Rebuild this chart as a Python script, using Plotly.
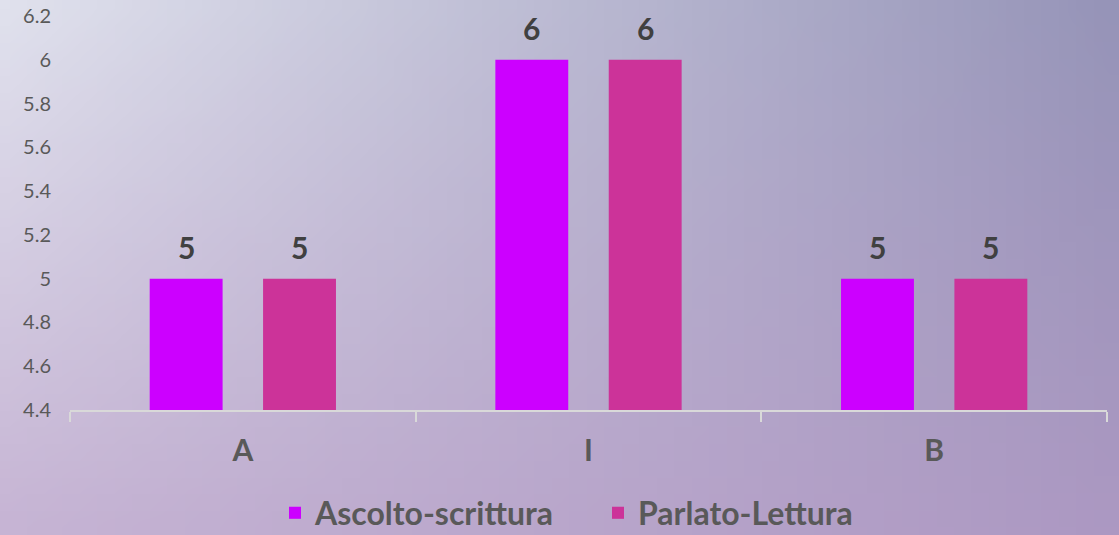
import base64, struct, zlib
import plotly.graph_objects as go

categories = ["A", "I", "B"]
series_names = ["Ascolto-scrittura", "Parlato-Lettura"]
ascolto_scrittura = [5, 6, 5]
parlato_lettura = [5, 6, 5]
y_tick_vals = [4.4, 4.6, 4.8, 5.0, 5.2, 5.4, 5.6, 5.8, 6.0, 6.2]
y_tick_text = ["4.4", "4.6", "4.8", "5", "5.2", "5.4", "5.6", "5.8", "6", "6.2"]

colors = ["#cc00ff", "#cc3399"]
FONT = "Lato"
BARGAP = 0.344
BARGROUPGAP = 0.357
W, H = 1119, 535
ML, MR, MT, MB = 70, 12, 16, 125


def gradient_png(w, h, tl, tr, bl, br):
    rows = b""
    for j in range(h):
        v = j / (h - 1)
        row = bytearray([0])
        for i in range(w):
            u = i / (w - 1)
            for c in range(3):
                top = tl[c] * (1 - u) + tr[c] * u
                bot = bl[c] * (1 - u) + br[c] * u
                row.append(int(round(top * (1 - v) + bot * v)))
        rows += bytes(row)

    def chunk(t, d):
        c = struct.pack(">I", len(d)) + t + d
        return c + struct.pack(">I", zlib.crc32(t + d) & 0xFFFFFFFF)

    png = b"\x89PNG\r\n\x1a\n"
    png += chunk(b"IHDR", struct.pack(">IIBBBBB", w, h, 8, 2, 0, 0, 0))
    png += chunk(b"IDAT", zlib.compress(rows))
    png += chunk(b"IEND", b"")
    return "data:image/png;base64," + base64.b64encode(png).decode()


bg = gradient_png(64, 32, (224, 225, 237), (150, 148, 184), (198, 180, 212), (172, 152, 194))
pw, ph = W - ML - MR, H - MT - MB

fig = go.Figure()
for name, vals, col in zip(series_names, [ascolto_scrittura, parlato_lettura], colors):
    fig.add_trace(go.Bar(x=categories, y=vals, name=f"<b>{name}</b>",
                         marker=dict(color=col, line=dict(width=0))))

# value labels above bars
slot = (1 - BARGAP) / len(series_names)
annotations = []
for k, vals in enumerate([ascolto_scrittura, parlato_lettura]):
    for i, v in enumerate(vals):
        annotations.append(dict(
            x=i + (k - (len(series_names) - 1) / 2) * slot, y=v, xref="x", yref="y",
            text=f"<b>{v}</b>", showarrow=False, yanchor="bottom", yshift=12,
            font=dict(family=FONT, size=30, color="#404040"),
        ))

fig.update_layout(
    width=W, height=H, autosize=False,
    margin=dict(l=ML, r=MR, t=MT, b=MB, autoexpand=False),
    barmode="group", bargap=BARGAP, bargroupgap=BARGROUPGAP,
    paper_bgcolor="#c6c1d8", plot_bgcolor="rgba(0,0,0,0)",
    font=dict(family=FONT, color="#595959"),
    images=[dict(source=bg, xref="paper", yref="paper", x=-ML / pw, y=1 + MT / ph,
                 sizex=W / pw, sizey=H / ph,
                 xanchor="left", yanchor="top", sizing="stretch", layer="below")],
    annotations=annotations,
    showlegend=True,
    legend=dict(orientation="h", x=(275 - ML) / pw, xanchor="left", y=-103 / ph, yanchor="middle",
                entrywidth=278, entrywidthmode="pixels",
                font=dict(family=FONT, size=32, color="#595959"), bgcolor="rgba(0,0,0,0)",
                itemsizing="constant"),
)
fig.update_xaxes(
    automargin=False,
    showline=True, linecolor="#d9d9d9", linewidth=2, showgrid=False,
    ticks="outside", tickson="boundaries", ticklen=10, tickcolor="#d9d9d9", tickwidth=2,
    tickfont=dict(family=FONT, size=30, color="#595959"), ticklabelstandoff=13,
    tickprefix="<b>", ticksuffix="</b>",
)
fig.update_yaxes(
    automargin=False,
    range=[4.4, 6.2], tickvals=y_tick_vals, ticktext=y_tick_text, showgrid=False,
    showline=False, zeroline=False, ticks="", ticklabelstandoff=18,
    tickfont=dict(family=FONT, size=20, color="#595959"),
)
fig.write_html("out.html", config={"displayModeBar": False},
               post_script="document.body.style.margin='0';document.body.style.overflow='hidden';")
